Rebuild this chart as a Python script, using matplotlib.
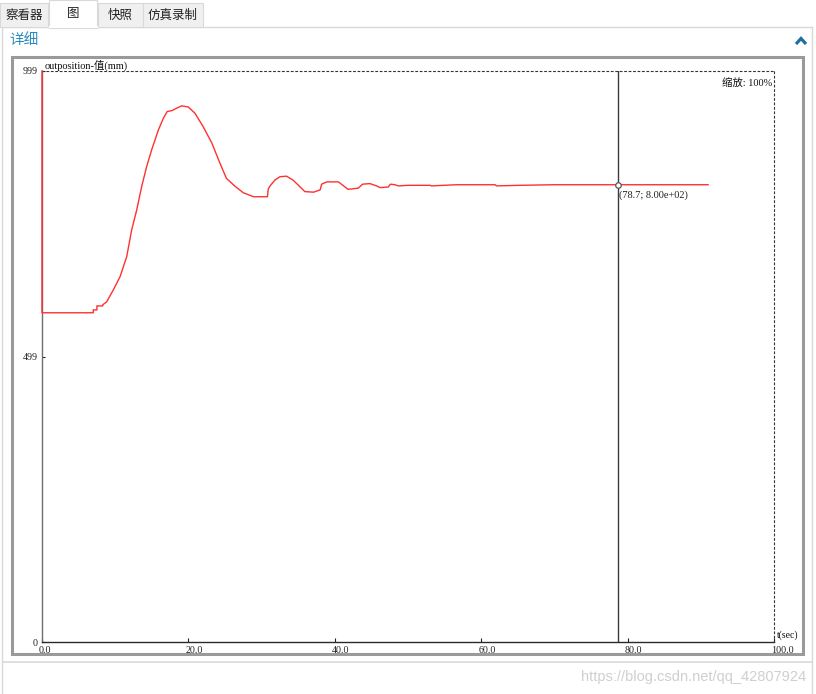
import matplotlib
matplotlib.use("Agg")
import matplotlib.pyplot as plt
from matplotlib.patches import Rectangle
from matplotlib.lines import Line2D
import matplotlib.transforms as mtransforms

# ---------------- data ----------------
time_s = [0.0, 0.0, 7.0, 7.0, 7.5, 7.5, 8.3, 8.3, 8.83, 9.74, 10.66, 11.57, 12.25,
          12.94, 13.62, 14.3, 14.98, 15.9, 16.57, 17.1, 17.8, 18.4, 19.08, 19.99,
          20.9, 22.0, 23.2, 24.3, 25.2, 26.4, 27.5, 28.9, 30.8, 30.9, 31.1,
          31.8, 32.5, 33.4, 34.3, 35.2, 35.9, 37.1, 38.0, 38.2, 38.9, 40.5,
          41.2, 41.8, 43.2, 43.8, 44.8, 45.7, 46.2, 47.3, 47.6, 48.2, 48.7,
          50.0, 53.0, 53.2, 56.6, 61.9, 62.1, 65.3, 70.0, 91.0]
position_mm = [999, 576, 576, 581, 581, 588, 588, 590, 595, 616, 639, 674, 721,
               756, 797, 832, 861, 896, 916, 928, 930, 934, 938, 936,
               925, 902, 873, 838, 811, 797, 786, 779, 779, 792, 797,
               808, 814, 815, 808, 797, 788, 787, 791, 801, 805, 805,
               798, 792, 794, 801, 802, 798, 795, 796, 801, 800, 798,
               799, 799, 798, 800, 800, 798, 799, 800, 800]

x_ticks = [0, 20, 40, 60, 80, 100]
x_tick_labels = ["0.0", "20.0", "40.0", "60.0", "80.0", "100.0"]
y_ticks = [0, 499, 999]
y_tick_labels = ["0", "499", "999"]

cursor_t = 78.7
cursor_v = 800
cursor_label = "(78.7; 8.00e+02)"

tabs = ["察看器", "图", "快照", "仿真录制"]
selected_tab = 1

W, H = 816, 694
fig = plt.figure(figsize=(W / 100, H / 100), dpi=100)
fig.patch.set_facecolor("white")

CJK = ["Noto Sans CJK SC", "DejaVu Sans"]
SERIF = ["Liberation Serif", "Noto Sans CJK SC"]


def fx(x):
    return x / W


def fy(y):
    return 1 - y / H


def frect(x0, y0, x1, y1, **kw):
    r = Rectangle((fx(x0), fy(y1)), fx(x1) - fx(x0), fy(y0) - fy(y1),
                  transform=fig.transFigure, **kw)
    fig.add_artist(r)
    return r


def fline(xs, ys, **kw):
    l = Line2D([fx(x) for x in xs], [fy(y) for y in ys],
               transform=fig.transFigure, **kw)
    fig.add_artist(l)
    return l


# ---------------- window chrome ----------------
fline([2, 2], [27, 694], color="#d9d9d9", lw=1)
fline([812, 812], [27, 694], color="#d9d9d9", lw=1)
fline([2, 812], [27, 27], color="#d9d9d9", lw=1)

tab_x = [(0, 48), (49, 97), (98, 143), (143, 203)]
for i, (name, (x0, x1)) in enumerate(zip(tabs, tab_x)):
    if i == selected_tab:
        frect(x0, 0, x1, 28, facecolor="white", edgecolor="#d9d9d9", lw=0.8, zorder=3)
        fline([x0 + 0.5, x1 - 0.5], [27, 27], color="white", lw=1.5, zorder=4)
        ty = 14
    else:
        frect(x0, 3, x1, 27, facecolor="#f0f0f0", edgecolor="#d9d9d9", lw=0.8, zorder=2)
        ty = 15.5
    fig.text(fx((x0 + x1) / 2), fy(ty), name, family=CJK, fontsize=9,
             ha="center", va="center", color="#222222", zorder=5)

fig.text(fx(9), fy(40), "详细", family=CJK, fontsize=10.5, color="#2b8ac0",
         ha="left", va="center")
fline([796, 801, 806], [44, 38.5, 44], color="#1f6fa0", lw=2.3,
      solid_capstyle="butt", solid_joinstyle="miter")

frect(12, 57, 803, 654, facecolor="white", edgecolor="#9a9a9a", lw=2.2, zorder=1)

fline([3, 812], [662, 662], color="#d9d9d9", lw=1.2)
fig.text(fx(806), fy(677), "https://blog.csdn.net/qq_42807924",
         family=["Liberation Sans", "DejaVu Sans"], fontsize=10.5,
         color="#cfcfcf", ha="right", va="center")

# ---------------- plot axes ----------------
ax = fig.add_axes([fx(42), fy(642), fx(774) - fx(42), fy(71) - fy(642)])
ax.set_facecolor("none")
ax.set_zorder(5)
ax.set_xlim(0, 100)
ax.set_ylim(0, 999)

ax.spines["left"].set_color("#6e6e6e")
ax.spines["left"].set_linewidth(1.0)
ax.spines["bottom"].set_color("#2a2a2a")
ax.spines["bottom"].set_linewidth(1.0)
for s in ("top", "right"):
    ax.spines[s].set_color("#333333")
    ax.spines[s].set_linewidth(0.8)
    ax.spines[s].set_linestyle((0, (1.5, 2.5)))

ax.set_xticks(x_ticks)
ax.set_xticklabels(x_tick_labels, family=SERIF, fontsize=7.2)
ax.set_yticks(y_ticks)
ax.set_yticklabels(y_tick_labels, family=SERIF, fontsize=7.2)
ax.tick_params(axis="x", direction="in", length=3, width=0.8, pad=3,
               colors="#222222")
ax.tick_params(axis="y", direction="in", length=2, width=0.8, pad=3,
               colors="#222222")
off = mtransforms.ScaledTranslation(-3 / 100, 0, fig.dpi_scale_trans)
for lbl in ax.get_xticklabels():
    lbl.set_horizontalalignment("left")
    lbl.set_transform(lbl.get_transform() + off)

ax.plot(time_s, position_mm, color="#ff3030", lw=1.0, clip_on=False, zorder=3)

ax.axvline(cursor_t, color="#3a3a3a", lw=1.0, zorder=2)
ax.plot([cursor_t], [cursor_v], marker="o", ms=4, mfc="white",
        mec="#555555", mew=0.9, zorder=4)
ax.annotate(cursor_label, (cursor_t, cursor_v), xytext=(1, -4),
            textcoords="offset points", family=SERIF, fontsize=7.5,
            ha="left", va="top", color="#222222")

ax.text(0.003, 1.0, "outposition-值(mm)", transform=ax.transAxes,
        family=SERIF, fontsize=7.5, ha="left", va="bottom", color="#111111",
        bbox=dict(facecolor="white", edgecolor="none", pad=0.3), zorder=6)
ax.text(0.997, 0.98, "缩放: 100%", transform=ax.transAxes,
        family=SERIF, fontsize=7.5, ha="right", va="center", color="#111111",
        zorder=6)
ax.text(1.004, 0.003, "t(sec)", transform=ax.transAxes, family=SERIF,
        fontsize=7, ha="left", va="bottom", color="#111111")

fig.savefig("out.png", dpi=100, facecolor="white")
